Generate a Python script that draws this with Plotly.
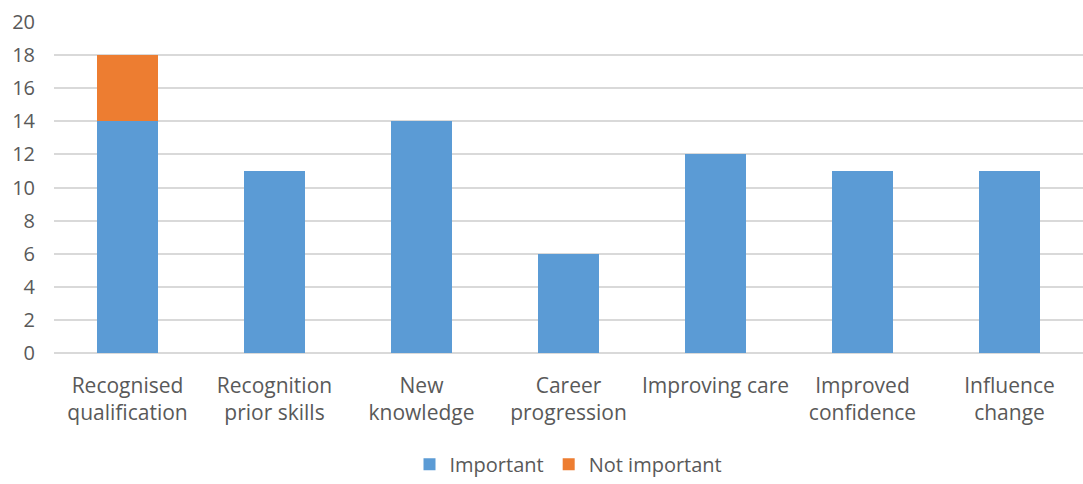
import plotly.graph_objects as go

categories = ["Recognised<br>qualification", "Recognition<br>prior skills", "New<br>knowledge",
              "Career<br>progression", "Improving care", "Improved<br>confidence", "Influence<br>change"]
important = [14, 11, 14, 6, 12, 11, 11]
not_important = [4, 0, 0, 0, 0, 0, 0]

FONT = "Open Sans"
GRAY = "#595959"

fig = go.Figure()
fig.add_bar(x=categories, y=important, name="Important", marker=dict(color="#5b9bd5", line=dict(width=0)))
fig.add_bar(x=categories, y=not_important, name="Not important", marker=dict(color="#ed7d31", line=dict(width=0)))

fig.update_layout(
    barmode="stack",
    bargap=0.59,
    width=1083, height=484,
    margin=dict(l=54, r=0, t=22, b=129),
    plot_bgcolor="white", paper_bgcolor="white",
    font=dict(family=FONT, size=20, color=GRAY),
    legend=dict(orientation="h", x=0.5, xanchor="center", y=-0.336, yanchor="middle",
                font=dict(size=20, color=GRAY), itemwidth=30, traceorder="normal"),
    xaxis=dict(showgrid=False, showline=False, ticks="", tickfont=dict(size=21, color=GRAY),
               ticklabelstandoff=18),
    yaxis=dict(range=[0, 20], dtick=2, showgrid=True, gridcolor="#d9d9d9", gridwidth=1.5,
               zeroline=True, zerolinecolor="#d9d9d9", zerolinewidth=1.5,
               showline=False, ticks="", tickfont=dict(size=20, color=GRAY), ticklabelstandoff=18),
)

fig.write_html("out.html")
